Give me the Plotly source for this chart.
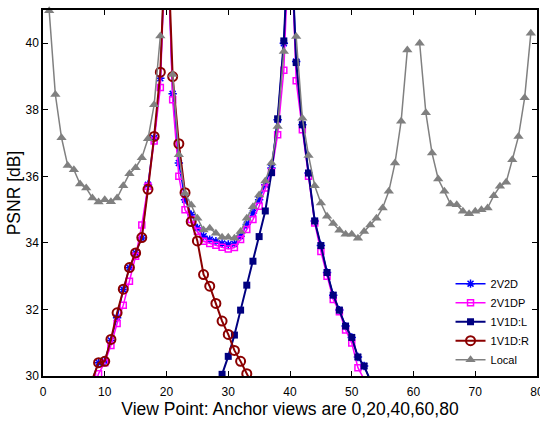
import plotly.graph_objects as go

# ---------------- data ----------------
x_2v2d = list(range(8, 54))
y_2v2d = [29.9, 30.4, 30.45, 31.07, 31.75, 32.6, 33.25, 33.7, 34.15, 35.75,
          37.15, 38.95, 44.0, 38.48, 36.4, 35.3, 34.85, 34.45, 34.2, 34.1,
          34.05, 33.98, 33.95, 33.97, 34.2, 34.55, 34.9, 35.3, 35.75, 36.25,
          37.7, 40.0, 44.0, 39.45, 37.55, 36.1, 34.66, 33.92, 33.11, 32.43,
          31.98, 31.5, 31.16, 30.57, 30.3, 29.87]

x_2v1dp = list(range(8, 53))
y_2v1dp = [29.5, 30.07, 30.4, 30.92, 31.58, 32.13, 32.85, 33.6, 34.54, 35.7,
           37.06, 38.67, 44.0, 38.3, 36.0, 35.0, 34.7, 34.35, 34.05, 33.98,
           33.93, 33.87, 33.82, 33.86, 34.1, 34.4, 34.7, 35.1, 35.65, 36.14,
           37.25, 39.19, 44.0, 38.87, 37.4, 36.0, 34.6, 33.74, 33.0, 32.3,
           31.93, 31.38, 30.99, 30.25, 29.9]

x_1v1dl = list(range(28, 54))
y_1v1dl = [29.4, 30.05, 30.59, 31.23, 31.98, 32.73, 33.45, 34.19, 34.96, 36.11,
           37.73, 40.07, 44.0, 39.42, 37.55, 36.1, 34.66, 33.92, 33.11, 32.43,
           31.98, 31.5, 31.16, 30.57, 30.3, 29.87]

x_1v1dr = list(range(8, 35))
y_1v1dr = [29.9, 30.4, 30.44, 31.1, 31.9, 32.61, 33.26, 33.7, 34.16, 35.61,
           37.2, 39.13, 44.0, 39.0, 36.98, 35.51, 34.64, 34.06, 33.05, 32.7,
           32.18, 31.65, 31.25, 30.77, 30.44, 30.07, 29.7]

x_local = list(range(1, 80))
y_local = [40.98, 38.46, 37.16, 36.33, 36.2, 35.77, 35.65, 35.35, 35.23, 35.3,
           35.24, 35.35, 35.72, 36.08, 36.26, 36.56, 37.13, 38.15, 40.22, None,
           39.06, 36.65, 35.49, 35.14, 34.74, 34.39, 34.44, 34.29, 34.17, 34.17,
           34.14, 34.34, 34.74, 35.09, 35.44, 35.86, 36.4, 37.5, 39.75, None,
           40.2, 37.75, 36.63, 35.72, 35.2, 34.8, 34.58, 34.38, 34.26, 34.26,
           34.14, 34.34, 34.54, 34.74, 35.05, 35.55, 36.4, 37.66, 39.8, None,
           40.0, 37.91, 36.7, 35.92, 35.55, 35.17, 35.15, 34.95, 34.88, 34.95,
           35.0, 35.05, 35.42, 35.7, 35.82, 36.5, 37.2, 38.36, 40.3]

x_ticks = [0, 10, 20, 30, 40, 50, 60, 70, 80]
y_ticks = [30, 32, 34, 36, 38, 40]

FONT = "Liberation Sans, Arial, Helvetica, sans-serif"

fig = go.Figure()

fig.add_trace(go.Scatter(
    x=x_2v2d, y=y_2v2d, name="2V2D", mode="lines+markers",
    line=dict(color="#0000FF", width=1.5),
    marker=dict(symbol="asterisk-open", size=7, line=dict(color="#0000FF", width=1.5))))

fig.add_trace(go.Scatter(
    x=x_2v1dp, y=y_2v1dp, name="2V1DP", mode="lines+markers",
    line=dict(color="#FF00FF", width=1.5),
    marker=dict(symbol="square-open", size=6, line=dict(color="#FF00FF", width=1.5))))

fig.add_trace(go.Scatter(
    x=x_1v1dl, y=y_1v1dl, name="1V1D:L", mode="lines+markers",
    line=dict(color="#000080", width=2),
    marker=dict(symbol="square", size=7, color="#000080")))

fig.add_trace(go.Scatter(
    x=x_1v1dr, y=y_1v1dr, name="1V1D:R", mode="lines+markers",
    line=dict(color="#8B0000", width=2),
    marker=dict(symbol="circle-open", size=9, line=dict(color="#8B0000", width=2))))

fig.add_trace(go.Scatter(
    x=x_local, y=y_local, name="Local", mode="lines+markers",
    connectgaps=False, cliponaxis=False,
    line=dict(color="#808080", width=1.5),
    marker=dict(symbol="triangle-up", size=9, color="#808080")))

axis_common = dict(
    showline=True, linecolor="black", linewidth=1.5, mirror="allticks",
    ticks="inside", ticklen=5, tickwidth=1, tickcolor="black",
    showgrid=False, zeroline=False, ticklabeloverflow="allow",
    tickfont=dict(family=FONT, size=12, color="black"),
)

fig.update_xaxes(range=[0, 80], tickvals=x_ticks, ticktext=[str(v) for v in x_ticks],
                 ticklabelstandoff=4,
                 title=dict(text="View Point: Anchor views are 0,20,40,60,80",
                            font=dict(family=FONT, size=17.5, color="black"), standoff=5),
                 **axis_common)
fig.update_yaxes(range=[30, 41], tickvals=y_ticks, ticktext=[str(v) for v in y_ticks],
                 title=dict(text="PSNR [dB]",
                            font=dict(family=FONT, size=17.5, color="black"), standoff=0),
                 **axis_common)

fig.update_layout(
    width=540, height=422,
    margin=dict(l=43, r=3, t=10, b=46, autoexpand=False),
    paper_bgcolor="white", plot_bgcolor="white",
    font=dict(family=FONT, color="black"),
    legend=dict(x=0.995, xanchor="right", y=0.005, yanchor="bottom",
                bgcolor="rgba(0,0,0,0)", font=dict(family=FONT, size=11, color="black"),
                tracegroupgap=0, itemwidth=30),
    showlegend=True,
)

fig.write_html("out.html", config={"displayModeBar": False},
               post_script="document.body.style.margin='0';document.body.style.overflow='hidden';")
